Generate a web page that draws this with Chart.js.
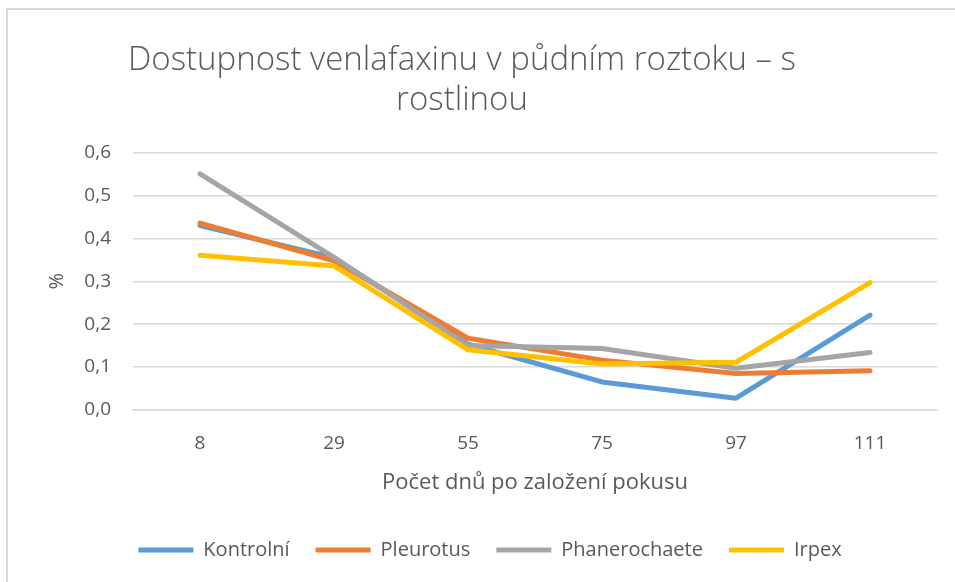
<!DOCTYPE html>
<html>
<head>
<meta charset="utf-8">
<script src="https://cdn.jsdelivr.net/npm/chart.js@4.4.1/dist/chart.umd.min.js"></script>
<style>
  html, body { margin: 0; padding: 0; background: #fff; overflow: hidden; width: 955px; height: 582px; }
  #frame { position: absolute; left: 6px; top: 8px; width: 1000px; height: 600px; border-left: 2px solid #d9d9d9; border-top: 2px solid #d9d9d9; }
  #wrap { position: absolute; left: -13px; top: 0; width: 968px; height: 582px; }
</style>
</head>
<body>
<div id="frame"></div>
<div id="wrap"><canvas id="chart"></canvas></div>
<script>
// Dostupnost venlafaxinu – s rostlinou
const days = ['8', '29', '55', '75', '97', '111'];
const kontrolni = [0.430, 0.355, 0.153, 0.065, 0.027, 0.221];
const pleurotus = [0.436, 0.348, 0.167, 0.116, 0.085, 0.091];
const phanerochaete = [0.551, 0.356, 0.150, 0.143, 0.097, 0.134];
const irpex = [0.361, 0.336, 0.140, 0.107, 0.111, 0.297];

const TEXT = '#595959', GRID = '#d9d9d9';
const FONT = '"Open Sans", "Noto Sans", sans-serif';

const series = [
  { label: 'Kontrolní', data: kontrolni, color: '#5b9bd5' },
  { label: 'Pleurotus', data: pleurotus, color: '#ed7d31' },
  { label: 'Phanerochaete', data: phanerochaete, color: '#a5a5a5' },
  { label: 'Irpex', data: irpex, color: '#ffc000' }
];

// legend sits a bit right of the title in the original, nudge it over
const legendShift = {
  id: 'legendShift',
  afterLayout(chart) {
    const lg = chart.legend;
    if (lg) { lg.left += 28; lg.right += 28; }
  }
};

new Chart(document.getElementById('chart'), {
  type: 'line',
  data: {
    labels: days,
    datasets: series.map((s, i) => ({
      label: s.label,
      data: s.data,
      borderColor: s.color,
      backgroundColor: s.color,
      borderWidth: 5,
      pointRadius: 0,
      tension: 0,
      borderCapStyle: 'round',
      borderJoinStyle: 'round',
      order: series.length - i   // later series drawn on top
    }))
  },
  plugins: [legendShift],
  options: {
    responsive: true,
    maintainAspectRatio: false,
    animation: false,
    layout: { padding: { top: 0, right: 18, bottom: 12, left: 0 } },
    plugins: {
      title: {
        display: true,
        text: ['Dostupnost venlafaxinu v půdním roztoku – s', 'rostlinou'],
        color: TEXT,
        font: { family: FONT, size: 33, weight: '300', lineHeight: 1.21 },
        padding: { top: 41, bottom: 32 }
      },
      legend: {
        position: 'bottom',
        labels: {
          color: TEXT,
          font: { family: FONT, size: 20 },
          boxWidth: 55,
          boxHeight: 5,
          padding: 26,
          sort: (a, b) => a.datasetIndex - b.datasetIndex,
          generateLabels: chart => chart.data.datasets.map((d, i) => ({
            text: d.label,
            fillStyle: d.borderColor,
            strokeStyle: d.borderColor,
            lineWidth: 0,
            fontColor: TEXT,
            datasetIndex: i
          }))
        }
      },
      tooltip: { enabled: false }
    },
    scales: {
      x: {
        offset: true,
        grid: { display: false, drawTicks: false },
        border: { display: true, color: GRID, width: 1.5 },
        ticks: { color: TEXT, font: { family: FONT, size: 19 }, padding: 22 },
        title: {
          display: true,
          text: 'Počet dnů po založení pokusu',
          color: TEXT,
          font: { family: FONT, size: 22 },
          padding: { top: -7, bottom: 18 }
        }
      },
      y: {
        min: 0,
        max: 0.6,
        afterFit: scale => { scale.width = 146; },
        grid: { color: GRID, lineWidth: 1.5, drawTicks: false },
        border: { display: false },
        ticks: {
          stepSize: 0.1,
          color: TEXT,
          font: { family: FONT, size: 19 },
          padding: 22,
          callback: v => v.toFixed(1).replace('.', ',')
        },
        title: {
          display: true,
          text: '%',
          color: TEXT,
          font: { family: FONT, size: 20 },
          padding: { top: 58, bottom: 0 }
        }
      }
    }
  }
});
</script>
</body>
</html>
